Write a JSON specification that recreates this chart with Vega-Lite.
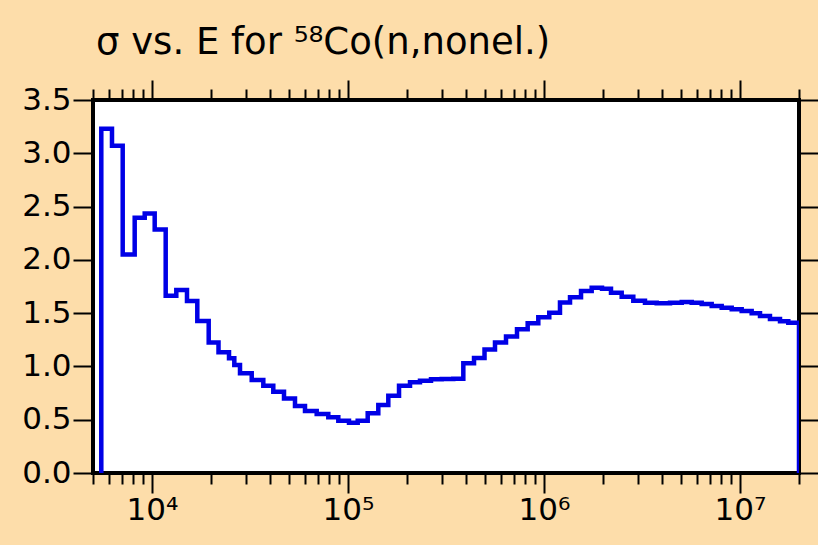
{
  "$schema": "https://vega.github.io/schema/vega-lite/v6.json",
  "autosize": {"type": "none"},
  "padding": {"left": 93, "top": 100, "right": 19, "bottom": 72},
  "width": 706,
  "height": 373,
  "background": "#FDDDAA",
  "config": {
    "view": {"fill": "white", "stroke": "black", "strokeWidth": 4},
    "axis": {"domain": false, "grid": false, "tickColor": "black", "tickWidth": 2, "labelFont": "DejaVu Sans", "labelFontSize": 31, "labelColor": "black"}
  },
  "title": {
    "text": "σ vs. E for ⁵⁸Co(n,nonel.)",
    "anchor": "start",
    "frame": "group",
    "font": "DejaVu Sans",
    "fontSize": 37,
    "fontWeight": "normal",
    "color": "black",
    "baseline": "alphabetic",
    "offset": -12,
    "dx": 3
  },
  "data": {
    "values": [
      {"i": 0, "E": 5512, "s": 0},
      {"i": 1, "E": 5512, "s": 3.23},
      {"i": 2, "E": 6250, "s": 3.07},
      {"i": 3, "E": 7088, "s": 2.05},
      {"i": 4, "E": 8160, "s": 2.395},
      {"i": 5, "E": 9180, "s": 2.436},
      {"i": 6, "E": 10322, "s": 2.286},
      {"i": 7, "E": 11745, "s": 1.663},
      {"i": 8, "E": 13304, "s": 1.717},
      {"i": 9, "E": 15085, "s": 1.613},
      {"i": 10, "E": 17025, "s": 1.426},
      {"i": 11, "E": 19466, "s": 1.224},
      {"i": 12, "E": 21844, "s": 1.132},
      {"i": 13, "E": 24711, "s": 1.076},
      {"i": 14, "E": 26298, "s": 1.013},
      {"i": 15, "E": 28119, "s": 0.935},
      {"i": 16, "E": 32265, "s": 0.872},
      {"i": 17, "E": 36975, "s": 0.819},
      {"i": 18, "E": 41572, "s": 0.763},
      {"i": 19, "E": 47150, "s": 0.7},
      {"i": 20, "E": 53650, "s": 0.629},
      {"i": 21, "E": 60340, "s": 0.582},
      {"i": 22, "E": 69230, "s": 0.553},
      {"i": 23, "E": 79340, "s": 0.522},
      {"i": 24, "E": 89240, "s": 0.491},
      {"i": 25, "E": 101180, "s": 0.472},
      {"i": 26, "E": 112070, "s": 0.491},
      {"i": 27, "E": 126050, "s": 0.56},
      {"i": 28, "E": 142760, "s": 0.638},
      {"i": 29, "E": 160560, "s": 0.725},
      {"i": 30, "E": 182110, "s": 0.819},
      {"i": 31, "E": 207200, "s": 0.851},
      {"i": 32, "E": 232950, "s": 0.866},
      {"i": 33, "E": 265150, "s": 0.879},
      {"i": 34, "E": 300600, "s": 0.882},
      {"i": 35, "E": 344500, "s": 0.884},
      {"i": 36, "E": 387600, "s": 1.03},
      {"i": 37, "E": 439500, "s": 1.08},
      {"i": 38, "E": 497200, "s": 1.16},
      {"i": 39, "E": 562300, "s": 1.225},
      {"i": 40, "E": 640000, "s": 1.28},
      {"i": 41, "E": 728200, "s": 1.348},
      {"i": 42, "E": 825500, "s": 1.404},
      {"i": 43, "E": 935200, "s": 1.461},
      {"i": 44, "E": 1064000, "s": 1.504},
      {"i": 45, "E": 1206600, "s": 1.601},
      {"i": 46, "E": 1357500, "s": 1.648},
      {"i": 47, "E": 1545000, "s": 1.707},
      {"i": 48, "E": 1751000, "s": 1.738},
      {"i": 49, "E": 1977000, "s": 1.728},
      {"i": 50, "E": 2197000, "s": 1.692},
      {"i": 51, "E": 2491000, "s": 1.654},
      {"i": 52, "E": 2855000, "s": 1.617},
      {"i": 53, "E": 3275000, "s": 1.598},
      {"i": 54, "E": 3758000, "s": 1.592},
      {"i": 55, "E": 4395000, "s": 1.598},
      {"i": 56, "E": 5043000, "s": 1.604},
      {"i": 57, "E": 5670000, "s": 1.598},
      {"i": 58, "E": 6377000, "s": 1.585},
      {"i": 59, "E": 7171000, "s": 1.567},
      {"i": 60, "E": 8065000, "s": 1.551},
      {"i": 61, "E": 9073000, "s": 1.536},
      {"i": 62, "E": 10200000, "s": 1.52},
      {"i": 63, "E": 11470000, "s": 1.498},
      {"i": 64, "E": 12650000, "s": 1.473},
      {"i": 65, "E": 14220000, "s": 1.445},
      {"i": 66, "E": 16000000, "s": 1.423},
      {"i": 67, "E": 17640000, "s": 1.41},
      {"i": 68, "E": 20000000, "s": 1.41},
      {"i": 69, "E": 20000000, "s": 0}
    ]
  },
  "layer": [
    {
      "mark": {"type": "line", "interpolate": "step-after", "color": "#0000E6", "strokeWidth": 4.5, "clip": true},
      "encoding": {
        "x": {
          "field": "E", "type": "quantitative",
          "scale": {"type": "log", "domain": [5000, 20000000], "nice": false},
          "axis": {
            "orient": "bottom", "title": null,
            "values": [5000, 6000, 7000, 8000, 9000, 10000, 20000, 30000, 40000, 50000, 60000, 70000, 80000, 90000, 100000, 200000, 300000, 400000, 500000, 600000, 700000, 800000, 900000, 1000000, 2000000, 3000000, 4000000, 5000000, 6000000, 7000000, 8000000, 9000000, 10000000, 20000000],
            "tickSize": {"condition": {"test": "datum.value == 10000 || datum.value == 100000 || datum.value == 1000000 || datum.value == 10000000", "value": 20}, "value": 11},
            "labelExpr": "datum.value == 10000 ? '10⁴' : datum.value == 100000 ? '10⁵' : datum.value == 1000000 ? '10⁶' : datum.value == 10000000 ? '10⁷' : ''",
            "labelPadding": 2,
            "labelOverlap": false,
            "labelFlush": false
          }
        },
        "y": {
          "field": "s", "type": "quantitative",
          "scale": {"domain": [0, 3.5], "nice": false},
          "axis": {
            "orient": "left", "title": null,
            "values": [0, 0.5, 1, 1.5, 2, 2.5, 3, 3.5],
            "format": ".1f",
            "tickSize": 20,
            "labelPadding": 2,
            "labelOverlap": false,
            "labelFlush": false
          }
        },
        "order": {"field": "i", "type": "quantitative"}
      }
    },
    {
      "mark": {"type": "line", "interpolate": "step-after", "opacity": 0},
      "encoding": {
        "x": {
          "field": "E", "type": "quantitative",
          "scale": {"type": "log", "domain": [5000, 20000000], "nice": false},
          "axis": {
            "orient": "top", "title": null, "labels": false,
            "values": [5000, 6000, 7000, 8000, 9000, 10000, 20000, 30000, 40000, 50000, 60000, 70000, 80000, 90000, 100000, 200000, 300000, 400000, 500000, 600000, 700000, 800000, 900000, 1000000, 2000000, 3000000, 4000000, 5000000, 6000000, 7000000, 8000000, 9000000, 10000000, 20000000],
            "tickSize": {"condition": {"test": "datum.value == 10000 || datum.value == 100000 || datum.value == 1000000 || datum.value == 10000000", "value": 20}, "value": 11}
          }
        },
        "y": {
          "field": "s", "type": "quantitative",
          "scale": {"domain": [0, 3.5], "nice": false},
          "axis": {
            "orient": "right", "title": null, "labels": false,
            "values": [0, 0.5, 1, 1.5, 2, 2.5, 3, 3.5],
            "tickSize": 20
          }
        },
        "order": {"field": "i", "type": "quantitative"}
      }
    }
  ],
  "resolve": {"axis": {"x": "independent", "y": "independent"}}
}
